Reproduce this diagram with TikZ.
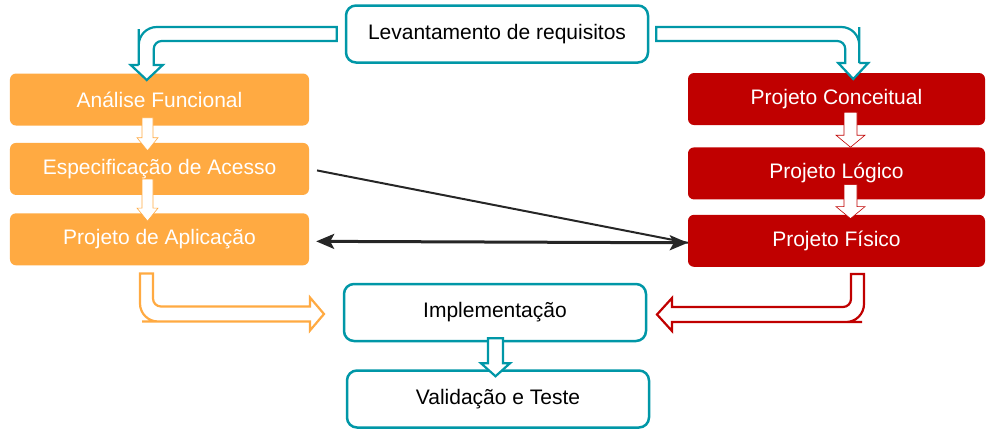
\documentclass[tikz,border=0pt]{standalone}
\usepackage{fontspec}
\setmainfont{Liberation Sans}
\usetikzlibrary{positioning, arrows.meta}
\definecolor{tealc}{RGB}{0,151,167}
\definecolor{orangec}{RGB}{255,170,66}
\definecolor{redc}{RGB}{192,0,0}
\tikzset{
  tbox/.style={draw=tealc, line width=2.5bp, rounded corners=10bp, fill=white,
    minimum width=302bp, minimum height=57bp, text=black},
  obox/.style={fill=orangec, rounded corners=6bp, text=white,
    minimum width=299bp, minimum height=52bp},
  rbox/.style={fill=redc, rounded corners=6bp, text=white,
    minimum width=297bp, minimum height=52bp},
  tblock/.style={draw=tealc, fill=white, line width=2.2bp},
  oblock/.style={draw=orangec, fill=white, line width=2.2bp},
  rblock/.style={draw=redc, fill=white, line width=2.2bp},
  wblock/.style={fill=white, line width=0.6bp}
}
\begin{document}
\begin{tikzpicture}[
				x = 1bp, y = -1bp,
				> = {Stealth[length=18bp, width=15bp, inset=4bp]}, % arrow head style
				font = \fontsize{21bp}{25bp}\selectfont
				]
				\useasboundingbox (0,0) rectangle (986,432);
				
				\node[tbox] (lev) at (497,34) {Levantamento de requisitos};
				
				\node[obox] (afn) at (159.5,99.5) {Análise Funcional};
				\node[obox] (esp) [below=17bp of afn] {Especificação de Acesso};
				\node[obox] (pap) [below=18bp of esp] {Projeto de Aplicação};
				
				\node[rbox] (pco) at (836.5,99) {Projeto Conceitual};
				\node[rbox] (plo) [below=22bp of pco] {Projeto Lógico};
				\node[rbox] (pfi) [below=15bp of plo] {Projeto Físico};
				
				\node[tbox] (imp) at (495,312.5) {Implementação};
				\node[tbox] (val) at (498,399) {Validação e Teste};
				
				% bent arrows from the top box
				\draw[tblock] (lev.west) ++(-8,-7) [rounded corners=18bp] -- ++(-198,0) -- ++(0,20)
				  [sharp corners] -- ++(0,18) -- ++(-8,0) -- ++(16,15) -- ++(16,-15) -- ++(-9,0) -- ++(0,-12)
				  [rounded corners=8bp] -- ++(0,-12) -- ++(100,0) [sharp corners] -- ++(83,0) -- cycle;
				\draw[tblock] (lev.east) ++(7,-7) [rounded corners=18bp] -- ++(203,0) -- ++(0,18)
				  [sharp corners] -- ++(0,18) -- ++(9,0) -- ++(-15,16) -- ++(-15,-16) -- ++(7,0) -- ++(0,-11)
				  [rounded corners=8bp] -- ++(0,-11) -- ++(-100,0) [sharp corners] -- ++(-89,0) -- cycle;
				
				% bent arrows into Implementação
				\draw[oblock] (pap.south) ++(-19.5,8) -- ++(0,28) [rounded corners=18bp] -- ++(0,20) -- ++(20,0)
				  [sharp corners] -- ++(150,0) -- ++(0,9) -- ++(14,-16.5) -- ++(-14,-16.5) -- ++(0,9) -- ++(-100,0)
				  [rounded corners=8bp] -- ++(-57,0) -- ++(0,-16) [sharp corners] -- ++(0,-17) -- cycle;
				\draw[rblock] (pfi.south) ++(27.5,7) -- ++(0,28) [rounded corners=18bp] -- ++(0,20) -- ++(-20,0)
				  [sharp corners] -- ++(-172,0) -- ++(0,9) -- ++(-15,-16.5) -- ++(15,-16.5) -- ++(0,9) -- ++(100,0)
				  [rounded corners=8bp] -- ++(79,0) -- ++(0,-16) [sharp corners] -- ++(0,-17) -- cycle;
				
				% white arrows inside the columns
				\draw[wblock, draw=orangec] (afn.south) ++(-17.5,-8) -- ++(0,20) -- ++(-5,0) -- ++(10.5,13)
				  -- ++(10.5,-13) -- ++(-5,0) -- ++(0,-20) -- cycle;
				\draw[wblock, draw=orangec] (esp.south) ++(-17.5,-16) -- ++(0,29) -- ++(-5,0) -- ++(10.5,13)
				  -- ++(10.5,-13) -- ++(-5,0) -- ++(0,-29) -- cycle;
				\draw[wblock, draw=redc] (pco.south) ++(7.5,-13) -- ++(0,23) -- ++(-8,0) -- ++(14.5,12)
				  -- ++(14.5,-12) -- ++(-8,0) -- ++(0,-23) -- cycle;
				\draw[wblock, draw=redc] (plo.south) ++(7.5,-15) -- ++(0,22) -- ++(-8,0) -- ++(14.5,12)
				  -- ++(14.5,-12) -- ++(-8,0) -- ++(0,-22) -- cycle;
				
				% Implementação -> Validação
				\draw[tblock] (imp.south) ++(-7,-4) -- ++(0,25) -- ++(-7,0) -- ++(14.5,13) -- ++(14.5,-13)
				  -- ++(-7,0) -- ++(0,-25) -- cycle;
				
				% links between the two columns
				\draw[line width=2bp, black!85, shorten <=8bp] (esp.east) -- ([yshift=-2bp]pfi.west);
				\draw[<->, line width=3bp, black!85, shorten <=7bp] ([yshift=-2bp]pap.east) -- ([yshift=-2bp]pfi.west);
				
			\end{tikzpicture}
\end{document}
